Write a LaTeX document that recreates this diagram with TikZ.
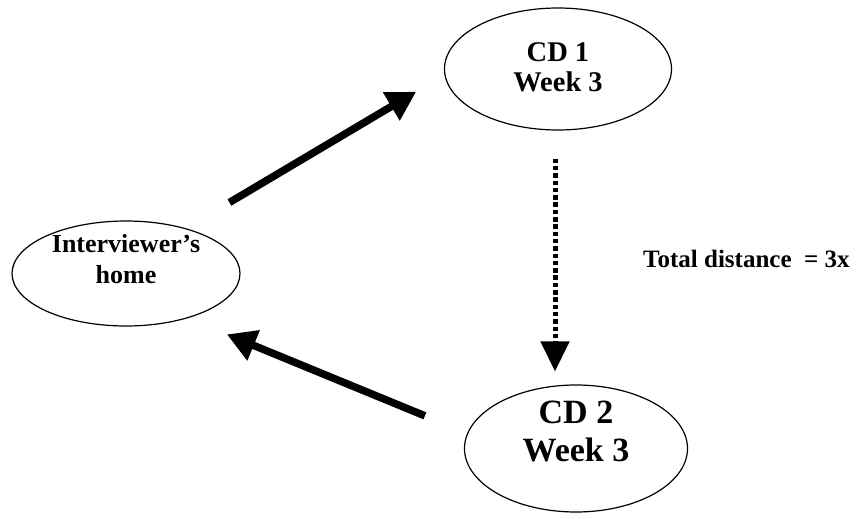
\documentclass[tikz,border=0pt]{standalone}
\usepackage{fontspec}
\setmainfont{Liberation Serif}
\usetikzlibrary{shapes.geometric, arrows.meta}

\begin{document}
\begin{tikzpicture}[x=1pt, y=-1pt,
    place/.style={draw, ellipse, line width=1.2pt, inner sep=0pt},
    placelabel/.style={align=center, inner sep=0pt},
    trip/.style={line width=7.5pt, -{Triangle[length=29pt, width=31pt]}},
    dotline/.style={line width=5pt, dash pattern=on 4.5pt off 2.8pt, -{Triangle[length=30pt, width=28pt]}}]
    \useasboundingbox (0,0) rectangle (868,519);
    % trois ellipses
    \node[place, minimum width=228pt, minimum height=105pt] (home) at (126,273.5) {};
    \node[place, minimum width=227pt, minimum height=122pt] (cd1) at (558,69) {};
    \node[place, minimum width=223pt, minimum height=127pt] (cd2) at (576,448.5) {};
    % textes dans les ellipses
    \node[placelabel, font=\bfseries\fontsize{26}{31}\selectfont] (hometext) at ([yshift=14.5pt]home.center) {Interviewer’s\\home};
    \node[placelabel, font=\bfseries\fontsize{28.5}{30}\selectfont] (cd1text) at ([yshift=1.5pt]cd1.center) {CD 1\\Week 3};
    \node[placelabel, font=\bfseries\fontsize{34}{38}\selectfont] (cd2text) at ([yshift=17pt]cd2.center) {CD 2\\Week 3};
    % flèches
    \draw[trip, shorten <=50.5pt, shorten >=32.8pt] (home.37.7) -- (cd1.183.8);
    \draw[dotline, shorten <=28pt, shorten >=13pt] ([xshift=-3pt]cd1.south) -- ([xshift=-3pt]cd1.south |- cd2.north);
    \draw[trip, shorten <=45.7pt, shorten >=42.4pt] (cd2.172.8) -- (home.324.5);
    % texte
    \node[font=\bfseries\fontsize{25}{30}\selectfont, anchor=base west, inner sep=0pt] (total) at (643,267) {Total distance\ \ = 3x};
\end{tikzpicture}
\end{document}
